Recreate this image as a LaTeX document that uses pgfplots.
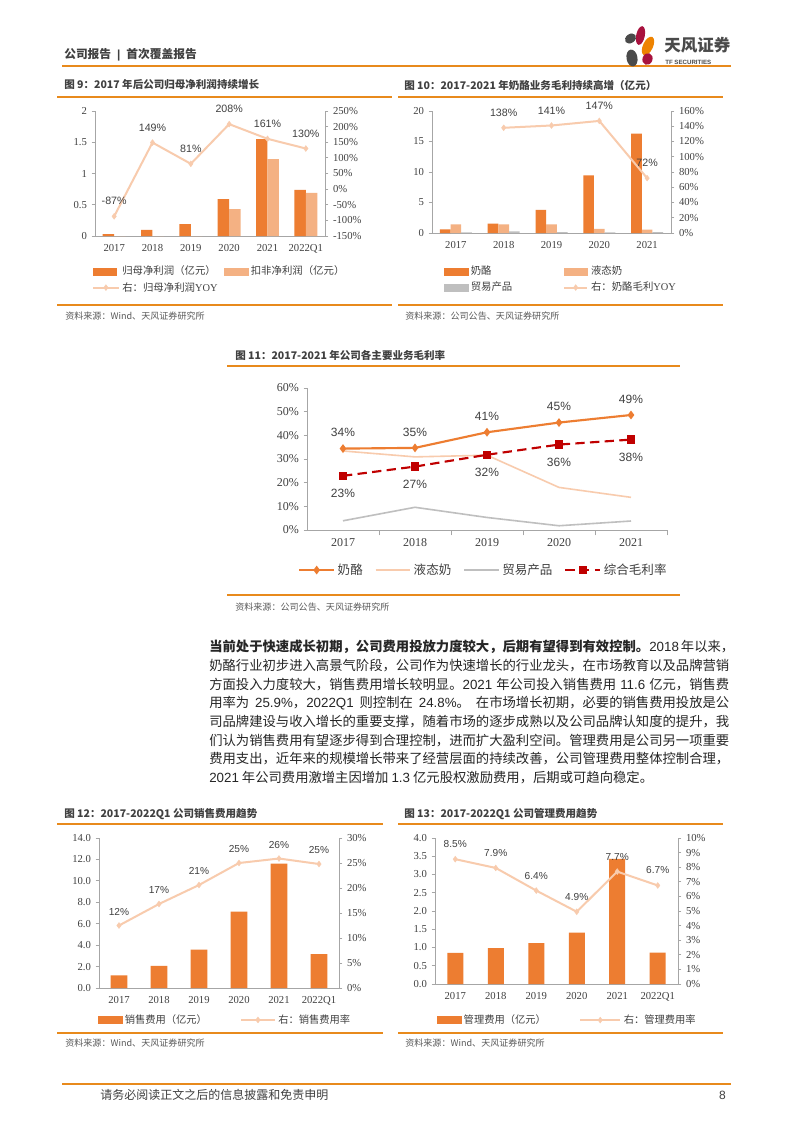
\documentclass[border=0pt]{standalone}
\usepackage{pgfplots}
\pgfplotsset{compat=1.18}
\usepackage{fontspec}
\setmainfont{Liberation Serif}
\newfontfamily\cjk{Noto Sans CJK SC}
\newfontfamily\sans{Liberation Sans}
\XeTeXlinebreaklocale "zh"
\XeTeXlinebreakskip=0pt plus 1.5pt minus 0.6pt
\definecolor{hdror}{HTML}{E88A1C}
\definecolor{bar1}{HTML}{ED7D31}
\definecolor{bar2}{HTML}{F4B183}
\definecolor{line1}{HTML}{F8CBAD}
\definecolor{gry}{HTML}{BFBFBF}
\definecolor{red1}{HTML}{C00000}
\definecolor{axg}{HTML}{A6A6A6}
\definecolor{txt}{HTML}{404040}
\definecolor{bodyc}{HTML}{262626}
\definecolor{src}{HTML}{595959}
\definecolor{logored}{HTML}{A8123E}
\definecolor{logogray}{HTML}{4A4A4A}
\definecolor{logoor}{HTML}{EE8300}

\pgfplotsset{
 base/.style={scale only axis, clip=false, enlargelimits=false,
   axis line style={draw=axg, line width=0.6pt},
   tick style={draw=axg, line width=0.6pt},
   tick align=outside, major tick length=2.5pt,
   ticklabel style={text=txt},
   major x tick style={draw=none}},
 legbar/.style={legend image code/.code={\fill[#1] (0pt,-2.6pt) rectangle (17.5pt,2.6pt);}},
 yoy/.style={color=line1, line width=1.5pt, mark=diamond*, mark size=2.2pt,
   mark options={solid, fill=line1, draw=line1, line width=0.3pt}},
 nlab/.style 2 args={nodes near coords={\pgfplotspointmeta\%}, point meta=explicit symbolic,
   every node near coord/.append style={text=txt, font=\sans\fontsize{#1}{#1}\selectfont,
   inner sep=0pt, anchor=center, yshift=#2}},
 legs/.style={legend style={draw=none, fill=none, inner sep=0pt, text=txt, legend cell align=left}},
}

\begin{document}
\begin{tikzpicture}[x=0.75pt,y=0.75pt]
\fill[white] (0,0) rectangle (793,-1122);
\path[use as bounding box] (0,0) rectangle (793,-1122);

% ---------- header ----------
\node[anchor=west, inner sep=0pt, font=\cjk\bfseries\fontsize{8.8}{10}\selectfont, text=txt] at (64,-55) {公司报告\hspace{4.5pt}{\sans\bfseries|}\hspace{4.5pt}首次覆盖报告};
\draw[hdror, line width=1.5pt] (62,-66) -- (731,-66);
% logo
\fill[logored, rotate around={-12:(640.5,-35.5)}] (640.5,-35.5) ellipse (4.3 and 9.5);
\fill[logogray, rotate around={35:(630.5,-38.5)}] (630.5,-38.5) ellipse (6 and 4.5);
\fill[logoor, rotate around={-25:(648,-46)}] (648,-46) ellipse (5 and 10);
\fill[logogray, rotate around={10:(632,-58)}] (632,-58) ellipse (5.5 and 8.5);
\fill[logored, rotate around={-20:(647.5,-59)}] (647.5,-59) ellipse (5 and 6);
\node[anchor=west, inner sep=0pt, font=\cjk\bfseries\fontsize{12.4}{13}\selectfont, text=logogray] at (664,-45) {天风证券};
\node[anchor=west, inner sep=0pt, font=\sans\bfseries\fontsize{4.6}{5}\selectfont, text=logogray] at (665,-62) {TF SECURITIES};

% ---------- figure 9 ----------
\node[anchor=west, inner sep=0pt, font=\cjk\bfseries\fontsize{7.9}{9}\selectfont, text=txt] at (64,-85) {图 9：2017 年后公司归母净利润持续增长};
\draw[hdror, line width=0.8pt] (57,-97) -- (392,-97);
\draw[hdror, line width=0.8pt] (57,-305) -- (392,-305);
\node[anchor=west, inner sep=0pt, font=\cjk\fontsize{6.8}{7}\selectfont, text=src] at (65,-316) {资料来源：Wind、天风证券研究所};
\coordinate (A9) at (95,-236);
\begin{axis}[base, at={(A9)}, anchor=south west, width=172.5pt, height=93.75pt,
  xmin=-0.5, xmax=5.5, ymin=0, ymax=2, axis x line*=bottom, axis y line*=left,
  xtick={0,1,2,3,4,5}, xticklabels={2017,2018,2019,2020,2021,2022Q1},
  ytick={0,0.5,1,1.5,2}, yticklabels={0,0.5,1,1.5,2},
  ticklabel style={font=\fontsize{8}{9}\selectfont}, ybar, bar width=8.6pt]
\addplot[fill=bar1, draw=none, bar shift=-4.3pt] coordinates {(0,0.03) (1,0.1) (2,0.19) (3,0.59) (4,1.55) (5,0.74)};
\addplot[fill=bar2, draw=none, bar shift=4.3pt] coordinates {(0,0) (1,0) (2,0) (3,0.43) (4,1.23) (5,0.69)};
\end{axis}
\begin{axis}[base, at={(A9)}, anchor=south west, width=172.5pt, height=93.75pt,
  xmin=-0.5, xmax=5.5, ymin=-150, ymax=250, axis x line=none, axis y line*=right, xtick=\empty,
  ytick={-150,-100,-50,0,50,100,150,200,250},
  yticklabels={-150\%,-100\%,-50\%,0\%,50\%,100\%,150\%,200\%,250\%},
  ticklabel style={font=\fontsize{8}{9}\selectfont},
  legs, legend columns=2,
  legend style={at={(-0.013,-0.348)}, anchor=west, font=\cjk\fontsize{7.8}{9}\selectfont,
    /tikz/every even column/.append style={column sep=3pt}},
  legend image code/.code={\draw[mark repeat=2,mark phase=2,#1] plot coordinates {(0pt,0pt) (9.5pt,0pt) (19pt,0pt)};}]
\addlegendimage{legbar=bar1}\addlegendentry{归母净利润（亿元）}
\addlegendimage{legbar=bar2}\addlegendentry{扣非净利润（亿元）}
\addplot[yoy, nlab={8}{11.25pt}] table[meta=l] {
x y l
0 -87 -87
1 149 149
2 81 81
3 208 208
4 161 161
5 130 130
};
\addlegendentry{右：归母净利润{\rmfamily YOY}}
\end{axis}

% ---------- figure 10 ----------
\node[anchor=west, inner sep=0pt, font=\cjk\bfseries\fontsize{7.9}{9}\selectfont, text=txt] at (404,-85) {图 10：2017-2021 年奶酪业务毛利持续高增（亿元）};
\draw[hdror, line width=0.8pt] (398,-97) -- (723,-97);
\draw[hdror, line width=0.8pt] (398,-305) -- (723,-305);
\node[anchor=west, inner sep=0pt, font=\cjk\fontsize{6.8}{7}\selectfont, text=src] at (405,-316) {资料来源：公司公告、天风证券研究所};
\coordinate (A10) at (432,-233);
\begin{axis}[base, at={(A10)}, anchor=south west, width=179.25pt, height=91.5pt,
  xmin=-0.5, xmax=4.5, ymin=0, ymax=20, axis x line*=bottom, axis y line*=left,
  xtick={0,1,2,3,4}, xticklabels={2017,2018,2019,2020,2021},
  ytick={0,5,10,15,20}, yticklabels={0,5,10,15,20},
  ticklabel style={font=\fontsize{8}{9}\selectfont}, ybar, bar width=8pt]
\addplot[fill=bar1, draw=none, bar shift=-8pt] coordinates {(0,0.6) (1,1.55) (2,3.8) (3,9.45) (4,16.3)};
\addplot[fill=bar2, draw=none, bar shift=0pt] coordinates {(0,1.4) (1,1.4) (2,1.4) (3,0.66) (4,0.55)};
\addplot[fill=gry, draw=none, bar shift=8pt] coordinates {(0,0.1) (1,0.27) (2,0.16) (3,0.1) (4,0.16)};
\end{axis}
\begin{axis}[base, at={(A10)}, anchor=south west, width=179.25pt, height=91.5pt,
  xmin=-0.5, xmax=4.5, ymin=0, ymax=160, axis x line=none, axis y line*=right, xtick=\empty,
  ytick={0,20,40,60,80,100,120,140,160},
  yticklabels={0\%,20\%,40\%,60\%,80\%,100\%,120\%,140\%,160\%},
  ticklabel style={font=\fontsize{8}{9}\selectfont},
  legs, legend columns=2,
  legend style={at={(0.05,-0.381)}, anchor=west, font=\cjk\fontsize{7.8}{9}\selectfont,
    /tikz/every even column/.append style={column sep=36pt}},
  legend image code/.code={\draw[mark repeat=2,mark phase=2,#1] plot coordinates {(0pt,0pt) (8.75pt,0pt) (17.5pt,0pt)};}]
\addlegendimage{legbar=bar1}\addlegendentry{奶酪}
\addlegendimage{legbar=bar2}\addlegendentry{液态奶}
\addlegendimage{legbar=gry}\addlegendentry{贸易产品}
\addplot[yoy, nlab={8}{11.25pt}] table[meta=l] {
x y l
1 138 138
2 141 141
3 147 147
4 72 72
};
\addlegendentry{右：奶酪毛利{\rmfamily YOY}}
\end{axis}

% ---------- figure 11 ----------
\node[anchor=west, inner sep=0pt, font=\cjk\bfseries\fontsize{7.9}{9}\selectfont, text=txt] at (235,-355) {图 11：2017-2021 年公司各主要业务毛利率};
\draw[hdror, line width=0.8pt] (227,-366) -- (680,-366);
\draw[hdror, line width=0.8pt] (227,-595) -- (680,-595);
\node[anchor=west, inner sep=0pt, font=\cjk\fontsize{6.8}{7}\selectfont, text=src] at (235,-607) {资料来源：公司公告、天风证券研究所};
\coordinate (A11) at (307,-530);
\begin{axis}[base, at={(A11)}, anchor=south west, width=270pt, height=106.5pt,
  xmin=-0.5, xmax=4.5, ymin=0, ymax=60, axis x line*=bottom, axis y line*=left,
  xtick={0,1,2,3,4}, xticklabels={2017,2018,2019,2020,2021},
  minor xtick={0.5,1.5,2.5,3.5,4.5}, minor x tick style={draw=axg}, minor tick length=4pt,
  ytick={0,10,20,30,40,50,60}, yticklabels={0\%,10\%,20\%,30\%,40\%,50\%,60\%},
  ticklabel style={font=\fontsize{9}{10}\selectfont},
  legs, legend columns=4,
  legend style={at={(-0.025,-0.282)}, anchor=west, font=\cjk\fontsize{9.4}{11}\selectfont,
    /tikz/every even column/.append style={column sep=7pt}},
  legend image code/.code={\draw[mark repeat=2,mark phase=2,#1] plot coordinates {(0pt,0pt) (13pt,0pt) (26pt,0pt)};}]
\addplot[color=bar1, line width=1.6pt, mark=diamond*, mark size=2pt, mark options={solid, fill=bar1}, nlab={9}{12pt}] table[meta=l] {
x y l
0 34.4 34
1 34.7 35
2 41.3 41
3 45.4 45
4 48.6 49
};
\addlegendentry{奶酪}
\addplot[color=line1, line width=1.2pt, no marks] coordinates {(0,33.4) (1,30.9) (2,31.6) (3,18.0) (4,13.8)};
\addlegendentry{液态奶}
\addplot[color=gry, line width=1.2pt, no marks] coordinates {(0,3.9) (1,9.6) (2,5.3) (3,1.8) (4,3.8)};
\addlegendentry{贸易产品}
\addplot[color=red1, line width=1.6pt, dash pattern=on 7pt off 4pt, mark=square*, mark size=2.3pt, mark options={solid, fill=red1}, nlab={9}{-13.5pt}] table[meta=l] {
x y l
0 22.9 23
1 26.8 27
2 31.8 32
3 36.1 36
4 38.2 38
};
\addlegendentry{综合毛利率}
\end{axis}

% ---------- body text ----------
\node[anchor=north west, inner sep=0pt, font=\cjk\fontsize{10}{14}\selectfont, text=bodyc] at (209,-640) {\vbox{\hsize=390pt \baselineskip=14pt
\hbox to 390pt{{\bfseries 当前处于快速成长初期，公司费用投放力度较大，后期有望得到有效控制。}{\sans 2018} 年以来，}
\hbox to 390pt{奶酪行业初步进入高景气阶段，公司作为快速增长的行业龙头，在市场教育以及品牌营销}
\hbox to 390pt{方面投入力度较大，销售费用增长较明显。{\sans 2021} 年公司投入销售费用 {\sans 11.6} 亿元，销售费}
\hbox to 390pt{用率为 {\sans 25.9\%}，{\sans 2022Q1} 则控制在 {\sans 24.8\%}。 在市场增长初期，必要的销售费用投放是公}
\hbox to 390pt{司品牌建设与收入增长的重要支撑，随着市场的逐步成熟以及公司品牌认知度的提升，我}
\hbox to 390pt{们认为销售费用有望逐步得到合理控制，进而扩大盈利空间。管理费用是公司另一项重要}
\hbox to 390pt{费用支出，近年来的规模增长带来了经营层面的持续改善，公司管理费用整体控制合理，}
\hbox{{\sans 2021} 年公司费用激增主因增加 {\sans 1.3} 亿元股权激励费用，后期或可趋向稳定。}}};

% ---------- figure 12 ----------
\node[anchor=west, inner sep=0pt, font=\cjk\bfseries\fontsize{7.9}{9}\selectfont, text=txt] at (64,-814) {图 12：2017-2022Q1 公司销售费用趋势};
\draw[hdror, line width=0.8pt] (57,-824) -- (383,-824);
\draw[hdror, line width=0.8pt] (57,-1033) -- (383,-1033);
\node[anchor=west, inner sep=0pt, font=\cjk\fontsize{6.8}{7}\selectfont, text=src] at (65,-1043) {资料来源：Wind、天风证券研究所};
\coordinate (A12) at (99,-988);
\begin{axis}[base, at={(A12)}, anchor=south west, width=180pt, height=112.5pt,
  xmin=-0.5, xmax=5.5, ymin=0, ymax=14, axis x line*=bottom, axis y line*=left,
  xtick={0,1,2,3,4,5}, xticklabels={2017,2018,2019,2020,2021,2022Q1},
  ytick={0,2,4,6,8,10,12,14}, yticklabels={0.0,2.0,4.0,6.0,8.0,10.0,12.0,14.0},
  ticklabel style={font=\fontsize{8}{9}\selectfont}, ybar, bar width=12.4pt]
\addplot[fill=bar1, draw=none, bar shift=0pt] coordinates {(0,1.19) (1,2.06) (2,3.59) (3,7.12) (4,11.6) (5,3.16)};
\end{axis}
\begin{axis}[base, at={(A12)}, anchor=south west, width=180pt, height=112.5pt,
  xmin=-0.5, xmax=5.5, ymin=0, ymax=30, axis x line=none, axis y line*=right, xtick=\empty,
  ytick={0,5,10,15,20,25,30}, yticklabels={0\%,5\%,10\%,15\%,20\%,25\%,30\%},
  ticklabel style={font=\fontsize{8}{9}\selectfont},
  legs, legend columns=2,
  legend style={at={(-0.004,-0.213)}, anchor=west, font=\cjk\fontsize{7.7}{9}\selectfont,
    /tikz/every even column/.append style={column sep=23pt}},
  legend image code/.code={\draw[mark repeat=2,mark phase=2,#1] plot coordinates {(0pt,0pt) (12.5pt,0pt) (25pt,0pt)};}]
\addlegendimage{legbar=bar1}\addlegendentry{销售费用（亿元）}
\addplot[yoy, nlab={7.6}{10.5pt}] table[meta=l] {
x y l
0 12.5 12
1 16.8 17
2 20.6 21
3 25.0 25
4 25.9 26
5 24.8 25
};
\addlegendentry{右：销售费用率}
\end{axis}

% ---------- figure 13 ----------
\node[anchor=west, inner sep=0pt, font=\cjk\bfseries\fontsize{7.9}{9}\selectfont, text=txt] at (404,-814) {图 13：2017-2022Q1 公司管理费用趋势};
\draw[hdror, line width=0.8pt] (398,-824) -- (723,-824);
\draw[hdror, line width=0.8pt] (398,-1033) -- (723,-1033);
\node[anchor=west, inner sep=0pt, font=\cjk\fontsize{6.8}{7}\selectfont, text=src] at (405,-1043) {资料来源：Wind、天风证券研究所};
\coordinate (A13) at (435,-984);
\begin{axis}[base, at={(A13)}, anchor=south west, width=182.25pt, height=109.5pt,
  xmin=-0.5, xmax=5.5, ymin=0, ymax=4, axis x line*=bottom, axis y line*=left,
  xtick={0,1,2,3,4,5}, xticklabels={2017,2018,2019,2020,2021,2022Q1},
  ytick={0,0.5,1,1.5,2,2.5,3,3.5,4}, yticklabels={0.0,0.5,1.0,1.5,2.0,2.5,3.0,3.5,4.0},
  ticklabel style={font=\fontsize{8}{9}\selectfont}, ybar, bar width=12pt]
\addplot[fill=bar1, draw=none, bar shift=0pt] coordinates {(0,0.85) (1,0.98) (2,1.12) (3,1.41) (4,3.43) (5,0.86)};
\end{axis}
\begin{axis}[base, at={(A13)}, anchor=south west, width=182.25pt, height=109.5pt,
  xmin=-0.5, xmax=5.5, ymin=0, ymax=10, axis x line=none, axis y line*=right, xtick=\empty,
  ytick={0,1,2,3,4,5,6,7,8,9,10}, yticklabels={0\%,1\%,2\%,3\%,4\%,5\%,6\%,7\%,8\%,9\%,10\%},
  ticklabel style={font=\fontsize{8}{9}\selectfont},
  legs, legend columns=2,
  legend style={at={(0.008,-0.247)}, anchor=west, font=\cjk\fontsize{7.7}{9}\selectfont,
    /tikz/every even column/.append style={column sep=23pt}},
  legend image code/.code={\draw[mark repeat=2,mark phase=2,#1] plot coordinates {(0pt,0pt) (15pt,0pt) (30pt,0pt)};}]
\addlegendimage{legbar=bar1}\addlegendentry{管理费用（亿元）}
\addplot[yoy, nlab={7.6}{11.25pt}] table[meta=l] {
x y l
0 8.55 8.5
1 7.95 7.9
2 6.4 6.4
3 4.95 4.9
4 7.7 7.7
5 6.75 6.7
};
\addlegendentry{右：管理费用率}
\end{axis}

% ---------- footer ----------
\draw[hdror, line width=1.5pt] (62,-1084) -- (731,-1084);
\node[anchor=west, inner sep=0pt, font=\cjk\fontsize{9}{10}\selectfont, text=txt] at (100,-1095) {请务必阅读正文之后的信息披露和免责申明};
\node[anchor=east, inner sep=0pt, font=\sans\fontsize{9}{10}\selectfont, text=txt] at (726,-1095) {8};
\end{tikzpicture}
\end{document}
